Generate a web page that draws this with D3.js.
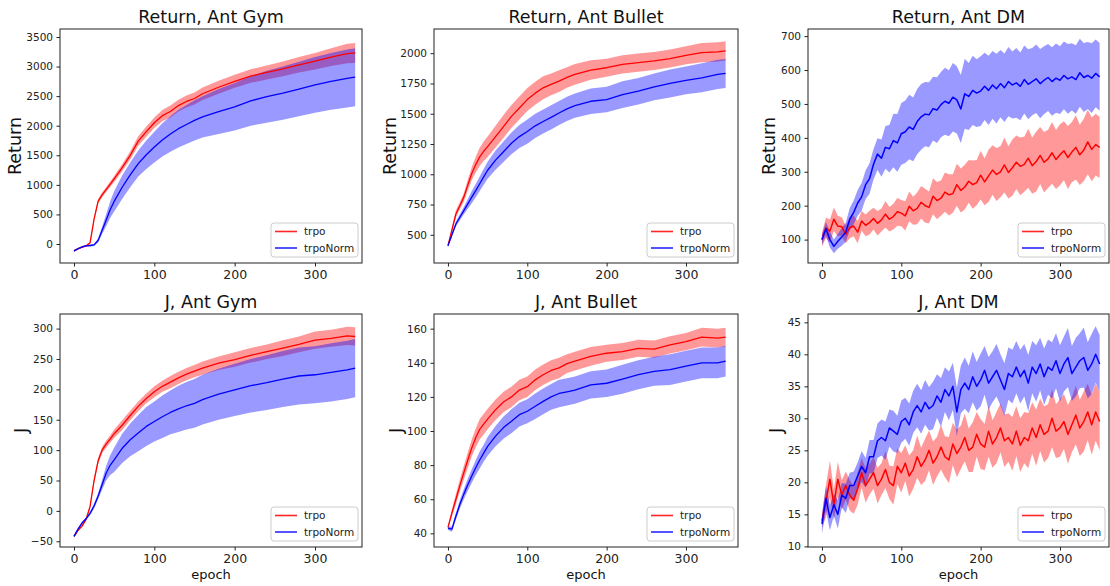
<!DOCTYPE html>
<html>
<head>
<meta charset="utf-8">
<script src="https://cdn.jsdelivr.net/npm/d3@7/dist/d3.min.js"></script>
<style>
body { margin: 0; background: #fff; }
svg { font-family: "DejaVu Sans", sans-serif; }
</style>
</head>
<body>
<script>
var width = 1110, height = 586;

// epochs read for the smooth runs (Gym, Bullet) and for the noisy DM runs
var epochs = [0,5,10,15,20,25,30,35,40,45,50,60,70,80,90,100,110,120,130,140,150,160,180,200,220,240,260,280,300,320,340,350];
var epochsDM = d3.range(0, 351, 5);

var xTicks = [0, 100, 200, 300];
var retGymTicks = [0, 500, 1000, 1500, 2000, 2500, 3000, 3500];
var retBulletTicks = [500, 750, 1000, 1250, 1500, 1750, 2000];
var retDMTicks = [100, 200, 300, 400, 500, 600, 700];
var jGymTicks = [-50, 0, 50, 100, 150, 200, 250, 300];
var jBulletTicks = [40, 60, 80, 100, 120, 140, 160];
var jDMTicks = [10, 15, 20, 25, 30, 35, 40, 45];

var series = ["trpo", "trpoNorm"];
var seriesColor = {trpo: "#ff0000", trpoNorm: "#0000ff"};

// Return, Ant Gym
var retGymTrpo = [-115,-80,-52,-32,20,420,720,830,920,1010,1100,1290,1500,1740,1900,2050,2170,2240,2340,2410,2460,2540,2650,2750,2840,2900,2960,3030,3090,3160,3220,3230];
var retGymTrpoSd = [15,15,15,15,20,30,35,40,40,45,50,60,70,80,85,90,95,100,100,100,100,105,110,110,115,120,125,130,140,150,165,170];
var retGymNorm = [-115,-80,-50,-30,-25,-15,60,230,400,580,720,960,1170,1360,1510,1640,1760,1860,1950,2020,2090,2150,2240,2320,2420,2490,2550,2620,2690,2750,2800,2820];
var retGymNormSd = [15,15,15,15,15,20,35,60,100,140,170,200,210,220,240,260,280,300,320,330,340,350,380,400,420,440,450,460,470,480,490,490];

// Return, Ant Bullet
var retBulletTrpo = [410,540,672,740,811,910,1006,1080,1144,1190,1228,1311,1394,1478,1547,1617,1670,1714,1742,1769,1800,1825,1861,1880,1908,1922,1936,1956,1983,2005,2011,2019];
var retBulletTrpoSd = [10,20,30,30,35,45,55,65,75,80,85,90,95,95,95,95,95,95,90,90,85,85,80,75,75,75,75,75,75,80,80,80];
var retBulletNorm = [410,500,589,645,700,755,811,865,922,978,1033,1117,1186,1256,1311,1353,1400,1436,1470,1506,1540,1567,1603,1617,1658,1686,1722,1750,1775,1797,1825,1833];
var retBulletNormSd = [10,15,20,25,30,40,50,55,60,65,70,80,85,90,95,100,100,100,100,100,100,100,105,105,110,110,110,115,115,120,120,120];

// Return, Ant DM (every 5 epochs)
var retDMTrpo = [100,135,125,160,140,138,115,135,140,122,155,142,150,162,148,158,175,160,168,182,178,170,198,185,192,210,200,195,228,215,222,240,232,236,262,245,255,272,262,268,290,270,288,305,292,300,320,298,312,328,316,322,340,318,330,348,328,338,356,336,350,362,342,358,372,350,364,388,366,380,372];
var retDMTrpoSd = [20,30,34,35,30,28,26,31,30,33,29,32,35,32,36,34,39,36,38,41,39,43,44,41,47,48,50,47,53,55,52,58,61,57,62,65,66,63,71,67,72,69,77,73,78,75,81,77,83,79,85,81,87,83,88,84,89,86,91,87,90,87,93,89,95,89,92,95,94,91,90];
var retDMNorm = [100,132,100,80,95,108,122,160,180,208,226,262,280,322,352,340,372,368,392,385,412,418,432,425,448,462,470,468,486,482,498,508,502,520,512,485,530,522,540,532,538,552,540,556,545,560,548,566,556,562,552,572,558,566,574,560,570,578,566,576,570,584,574,580,572,592,578,584,576,590,580];
var retDMNormSd = [15,20,23,20,22,26,28,33,35,38,41,42,45,45,47,55,63,70,79,85,91,92,95,94,96,97,95,96,94,97,96,99,97,101,99,100,103,99,102,100,103,99,102,100,103,99,101,102,99,103,100,100,103,99,101,102,100,99,101,102,100,100,103,99,101,100,102,99,103,100,100];

// J, Ant Gym
var jGymTrpo = [-42,-32,-25,-14,7,50,82,100,110,118,127,141,157,172,185,196,205,212,219,225,230,235,243,249,256,262,268,274,281,284,288,287];
var jGymTrpoSd = [2,2,2,2,3,4,5,5,6,6,7,8,8,8,8,9,9,10,10,10,10,11,11,12,12,12,13,13,14,14,15,15];
var jGymNorm = [-42,-30,-20,-13,-4,8,24,43,62,75,84,103,117,128,139,147,155,162,168,173,177,183,192,199,206,211,217,222,224,228,232,235];
var jGymNormSd = [2,2,2,2,3,4,5,8,12,16,20,24,27,30,32,33,35,36,38,39,40,41,42,43,44,45,46,47,47,48,48,48];

// J, Ant Bullet
var jBulletTrpo = [43.5,52,60,68,75.6,83,90,96,101,104,107,112.5,117,120,124,126,130,133,135.5,137,139.5,141,143.7,145.6,146.6,148.5,148,150.5,152.4,155,154.4,155];
var jBulletTrpoSd = [1,2,3,3.5,4,4.5,5,5.5,6,6,6,6,6,6,6,6,6,6,6,6,5.5,5.5,5.5,5,5,5,5,5,5,5.5,5.5,5.5];
var jBulletNorm = [43,42.5,50,57,63,68.5,73.6,78.5,83,87,91,97,102,105.7,109.6,111.6,114.5,117.4,120,122,123,124,127,128,130.4,133,135,136,138,140,140,141];
var jBulletNormSd = [1,1.5,2,2.5,3,3.5,4,4.5,5,5,5.5,6,6.5,7,7,7,7.5,7.5,7.5,8,8,8,8,8,8.5,8.5,8.5,9,9,9,9,9];

// J, Ant DM (every 5 epochs)
var jDMTrpo = [14,17,20.5,16.5,20.5,18,19.5,18,17.2,19,21.5,19.5,20.5,21.5,19.5,20.5,22,20,19.5,22.5,21.5,23,21,22,24,22.5,23.5,25,23,24,25.5,24,23.5,26,24.5,25.5,27,25,25.5,27.5,26,25.5,28,26,27,28.5,26.5,27,26,28,25.8,27,26.5,28.5,27,29,27.5,28,30,28,28.5,29.5,27.5,29,30.5,28.5,29.5,31,29,31,29.5];
var jDMTrpoSd = [1,2.5,2.9,2.4,2.7,2.3,2.2,2.4,2.1,2.5,2.3,2.7,2.4,2.5,2.8,2.5,2.9,2.6,3,2.8,3.1,2.8,3.2,3,3.3,2.9,3.3,3.1,3.4,3.1,3.5,3.2,3.6,3.3,3.7,3.4,3.7,3.4,3.9,3.5,3.9,3.6,4,3.7,4,3.8,4.1,3.8,4.2,3.9,4.2,4,4.3,4,4.4,4.1,4.4,4.2,4.5,4.2,4.5,4.3,4.6,4.3,4.6,4.4,4.7,4.4,4.7,4.5,4.5];
var jDMNorm = [13.5,17.5,14.5,16.5,15,18,17.5,19.5,19.5,21,22.5,21.5,24,24,26.5,27,26.5,28.5,28,27.5,29.5,30,29,31,32,31,32.5,31.5,32,33.5,32.5,34.5,33.5,35,31,34.5,35.5,34.5,36.5,35,36,37.5,35.5,36.5,37.5,36,34.5,37,36.5,38,36.5,37.5,35.5,38,37,38.5,36.5,38,37.5,39,37,38.5,39.5,37,38,39,39.5,37.5,38.5,40,38.5];
var jDMNormSd = [1.5,1.9,2,1.7,2.2,1.9,2.3,2,2.2,2.1,2.4,2.3,2.6,2.6,2.7,2.8,3,2.9,3.2,2.9,3.3,3.2,3.3,3.3,3.4,3.4,3.5,3.4,3.7,3.4,3.8,3.5,3.8,3.7,3.8,3.7,4,3.7,4,3.8,4.1,3.8,4.1,4,4.1,4,4.1,4.1,4.2,4.1,4.2,4.1,4.4,4.1,4.4,4.1,4.4,4.3,4.4,4.3,4.4,4.3,4.6,4.3,4.6,4.3,4.7,4.4,4.7,4.4,4.5];

// layout
var colX = [[60, 362], [434, 738], [808, 1109]];
var rowY = [[29, 263], [314, 547]];
var xDomains = [[-17.4, 358.5], [-17.6, 365.6], [-17.6, 361.8]];

var panels = [
  {title: "Return, Ant Gym", ylabel: "Return", col: 0, row: 0, x: epochs, ydom: [-321, 3635], ticks: retGymTicks, labelOff: 45,
   mean: {trpo: retGymTrpo, trpoNorm: retGymNorm}, sd: {trpo: retGymTrpoSd, trpoNorm: retGymNormSd}},
  {title: "Return, Ant Bullet", ylabel: "Return", col: 1, row: 0, x: epochs, ydom: [267, 2200], ticks: retBulletTicks, labelOff: 44,
   mean: {trpo: retBulletTrpo, trpoNorm: retBulletNorm}, sd: {trpo: retBulletTrpoSd, trpoNorm: retBulletNormSd}},
  {title: "Return, Ant DM", ylabel: "Return", col: 2, row: 0, x: epochsDM, ydom: [31, 721], ticks: retDMTicks, labelOff: 39,
   mean: {trpo: retDMTrpo, trpoNorm: retDMNorm}, sd: {trpo: retDMTrpoSd, trpoNorm: retDMNormSd}},
  {title: "J, Ant Gym", ylabel: "J", col: 0, row: 1, x: epochs, ydom: [-59.4, 324], ticks: jGymTicks, labelOff: 39,
   mean: {trpo: jGymTrpo, trpoNorm: jGymNorm}, sd: {trpo: jGymTrpoSd, trpoNorm: jGymNormSd}},
  {title: "J, Ant Bullet", ylabel: "J", col: 1, row: 1, x: epochs, ydom: [32, 168.6], ticks: jBulletTicks, labelOff: 38,
   mean: {trpo: jBulletTrpo, trpoNorm: jBulletNorm}, sd: {trpo: jBulletTrpoSd, trpoNorm: jBulletNormSd}},
  {title: "J, Ant DM", ylabel: "J", col: 2, row: 1, x: epochsDM, ydom: [9.9, 46.3], ticks: jDMTicks, labelOff: 32,
   mean: {trpo: jDMTrpo, trpoNorm: jDMNorm}, sd: {trpo: jDMTrpoSd, trpoNorm: jDMNormSd}}
];

var svg = d3.select("body").append("svg")
    .attr("width", width)
    .attr("height", height);

function drawPanel(p, i) {
    var xr = colX[p.col], yr = rowY[p.row];
    var x = d3.scaleLinear().domain(xDomains[p.col]).range(xr);
    var y = d3.scaleLinear().domain(p.ydom).range([yr[1], yr[0]]);
    var g = svg.append("g");
    var lw = p.x === epochsDM ? 1.5 : 1.3;

    var clipId = "clip" + i;
    g.append("clipPath").attr("id", clipId)
      .append("rect")
      .attr("x", xr[0]).attr("y", yr[0])
      .attr("width", xr[1] - xr[0]).attr("height", yr[1] - yr[0]);
    var plot = g.append("g").attr("clip-path", "url(#" + clipId + ")");

    // shaded bands first, lines on top
    series.forEach(function(s) {
        var m = p.mean[s], sd = p.sd[s];
        var area = d3.area()
          .x(function(d, k) { return x(p.x[k]); })
          .y0(function(d, k) { return y(m[k] - sd[k]); })
          .y1(function(d, k) { return y(m[k] + sd[k]); });
        plot.append("path")
          .attr("d", area(m))
          .attr("fill", seriesColor[s])
          .attr("fill-opacity", 0.4);
    });
    series.forEach(function(s) {
        var line = d3.line()
          .x(function(d, k) { return x(p.x[k]); })
          .y(function(d) { return y(d); });
        plot.append("path")
          .attr("d", line(p.mean[s]))
          .attr("fill", "none")
          .attr("stroke", seriesColor[s])
          .attr("stroke-width", lw)
          .attr("stroke-linejoin", "round");
    });

    var xAxis = d3.axisBottom(x).tickValues(xTicks).tickSize(3.5).tickPadding(3.5).tickFormat(d3.format("d"));
    var yAxis = d3.axisLeft(y).tickValues(p.ticks).tickSize(3.5).tickPadding(3.5).tickFormat(d3.format("d"));

    var gx = g.append("g")
      .attr("transform", "translate(0," + yr[1] + ")")
      .call(xAxis);
    gx.select(".domain").remove();
    gx.selectAll("text").attr("font-size", 12.5).attr("font-family", "DejaVu Sans").attr("fill", "#222");
    gx.selectAll("line").attr("stroke", "#222");

    var gy = g.append("g")
      .attr("transform", "translate(" + xr[0] + ",0)")
      .call(yAxis);
    gy.select(".domain").remove();
    gy.selectAll("text").attr("font-size", 10.5).attr("font-family", "DejaVu Sans").attr("fill", "#222");
    gy.selectAll("line").attr("stroke", "#222");

    g.append("rect")
      .attr("x", xr[0]).attr("y", yr[0])
      .attr("width", xr[1] - xr[0]).attr("height", yr[1] - yr[0])
      .attr("fill", "none")
      .attr("stroke", "#222")
      .attr("stroke-width", 1);

    var cx = (xr[0] + xr[1]) / 2;
    g.append("text")
      .attr("x", cx).attr("y", yr[0] - 6)
      .attr("text-anchor", "middle")
      .attr("font-size", 17.5)
      .attr("fill", "#111")
      .text(p.title);

    var lx = xr[0] - p.labelOff, ly = (yr[0] + yr[1]) / 2;
    g.append("text")
      .attr("transform", "translate(" + lx + "," + ly + ") rotate(-90)")
      .attr("text-anchor", "middle")
      .attr("dy", "0.35em")
      .attr("font-size", 17.5)
      .attr("fill", "#111")
      .text(p.ylabel);

    if (p.row == 1) {
        g.append("text")
          .attr("x", cx).attr("y", 579)
          .attr("text-anchor", "middle")
          .attr("font-size", 13)
          .attr("fill", "#111")
          .text("epoch");
    }

    // legend, lower right
    var bw = 87, bh = 34;
    var bx = xr[1] - 4 - bw, by = yr[1] - 6 - bh;
    var leg = g.append("g");
    leg.append("rect")
      .attr("x", bx).attr("y", by)
      .attr("width", bw).attr("height", bh)
      .attr("rx", 3)
      .attr("fill", "#fff").attr("fill-opacity", 0.8)
      .attr("stroke", "#ccc");
    series.forEach(function(s, k) {
        var yy = by + 8.5 + k * 16.5;
        leg.append("line")
          .attr("x1", bx + 4).attr("x2", bx + 26)
          .attr("y1", yy).attr("y2", yy)
          .attr("stroke", seriesColor[s])
          .attr("stroke-opacity", 0.85)
          .attr("stroke-width", 1.6);
        leg.append("text")
          .attr("x", bx + 33).attr("y", yy)
          .attr("dy", "0.35em")
          .attr("font-size", 10.5)
          .attr("fill", "#222")
          .text(s);
    });
}

panels.forEach(drawPanel);
</script>
</body>
</html>
